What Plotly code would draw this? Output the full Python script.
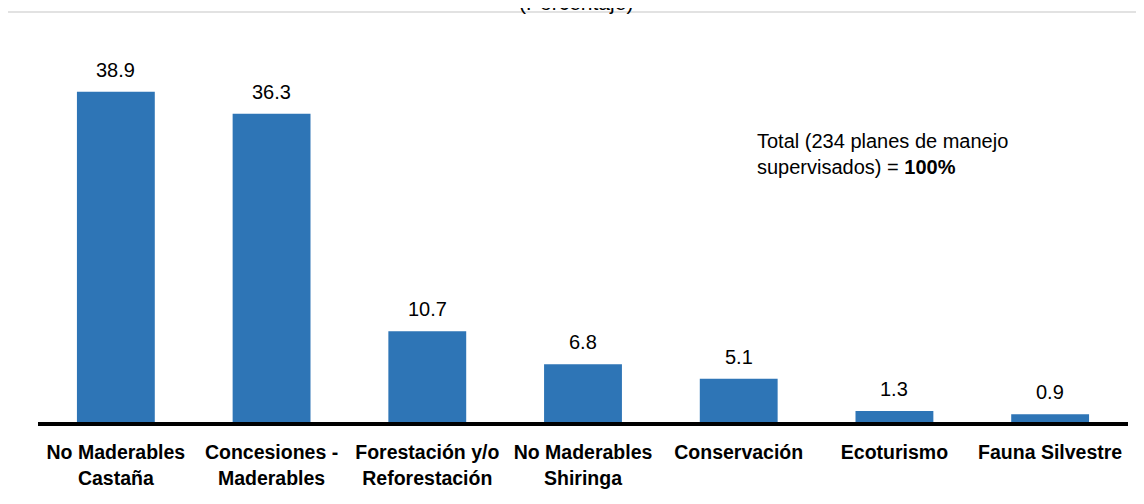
import plotly.graph_objects as go

categorias = ["No Maderables<br>Castaña", "Concesiones -<br>Maderables",
              "Forestación y/o<br>Reforestación", "No Maderables<br>Shiringa",
              "Conservación", "Ecoturismo", "Fauna Silvestre"]
porcentajes = [38.9, 36.3, 10.7, 6.8, 5.1, 1.3, 0.9]
etiquetas = ["38.9", "36.3", "10.7", "6.8", "5.1", "1.3", "0.9"]

FONT = "Liberation Sans, Arial, sans-serif"
# la página tiene 8px de margen, así que la figura es 8px más pequeña
W, H = 1136, 496
ml, mr, mt, mb = 30, 16, 32, 82
pw, ph = W - ml - mr, H - mt - mb


def px(x):
    return (x - ml) / pw


def py(y):
    return (mt + ph - y) / ph


fig = go.Figure(go.Bar(
    x=categorias, y=porcentajes,
    marker=dict(color="#2E75B6", line=dict(width=0)),
))

# etiquetas de valor sobre las barras
for c, v, t in zip(categorias, porcentajes, etiquetas):
    fig.add_annotation(x=c, y=v, text=t, showarrow=False, yanchor="bottom",
                       yshift=9, font=dict(family=FONT, size=20, color="#000"))

fig.add_annotation(
    xref="paper", yref="paper", x=px(747), y=py(146),
    text="Total (234 planes de manejo<br>supervisados) = <b>100%</b>",
    showarrow=False, xanchor="left", yanchor="middle", align="left",
    font=dict(family=FONT, size=20, color="#000"))

fig.add_annotation(
    xref="paper", yref="paper", x=px(568), y=py(-6),
    text="(Porcentaje)", showarrow=False, xanchor="center", yanchor="middle",
    font=dict(family=FONT, size=21, color="#000"))

# marco del gráfico
fig.add_shape(type="rect", xref="paper", yref="paper",
              x0=px(-5), x1=px(1135), y0=py(560), y1=py(4),
              line=dict(color="#D9D9D9", width=1.5), layer="below")

fig.update_layout(
    width=W, height=H,
    margin=dict(l=ml, r=mr, t=mt, b=mb, autoexpand=False),
    paper_bgcolor="white", plot_bgcolor="white",
    bargap=0.5, showlegend=False,
    font=dict(family=FONT, color="#000"),
    xaxis=dict(showline=True, linecolor="#000", linewidth=3.5, automargin=False,
               ticks="outside", ticklen=10, tickcolor="rgba(0,0,0,0)",
               tickfont=dict(family=FONT, size=19.5, color="#000"),
               tickprefix="<b>", ticksuffix="</b>"),
    yaxis=dict(range=[0, 45], visible=False, showgrid=False, zeroline=False),
)

fig.write_html("out.html")
